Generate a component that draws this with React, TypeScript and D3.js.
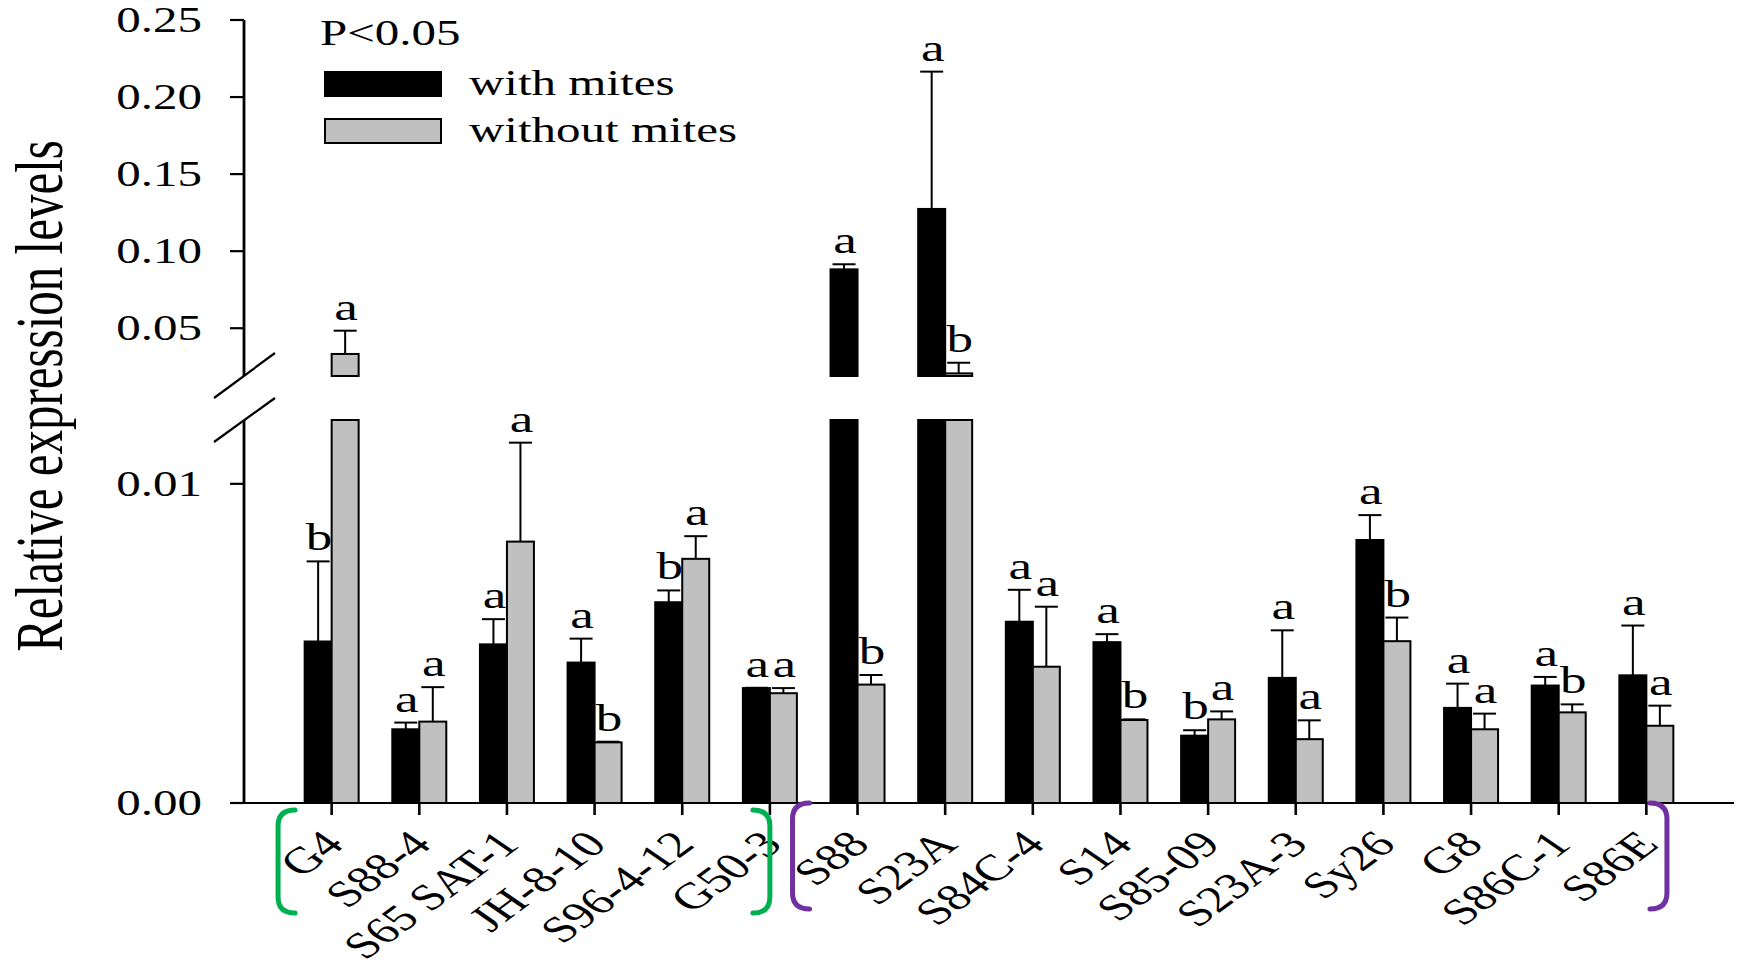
import React from 'react';
import * as d3 from 'd3';

// Cultivars, grouped by the coloured brackets under the axis
const categories = [
  'G4', 'S88-4', 'S65 SAT-1', 'JH-8-10', 'S96-4-12', 'G50-3',
  'S88', 'S23A', 'S84C-4', 'S14', 'S85-09', 'S23A-3', 'Sy26', 'G8', 'S86C-1', 'S86E',
];

// Relative expression, mean and standard error
const withMites = [
  0.00506, 0.00231, 0.00497, 0.0044, 0.00629, 0.0036,
  0.0882, 0.1274, 0.00568, 0.00504, 0.00211, 0.00392, 0.00824, 0.00298, 0.00368, 0.004,
];
const withMitesSE = [
  0.00251, 0.00021, 0.00079, 0.00075, 0.00037, 0.00001,
  0.0033, 0.0891, 0.001, 0.00025, 0.00017, 0.00149, 0.00078, 0.00076, 0.00027, 0.00156,
];
const withoutMites = [
  0.0333, 0.00255, 0.00819, 0.0019, 0.00765, 0.00344,
  0.00371, 0.0207, 0.00427, 0.0026, 0.00262, 0.002, 0.00507, 0.00231, 0.00284, 0.00242,
];
const withoutMitesSE = [
  0.0151, 0.00108, 0.0031, 0.00002, 0.00071, 0.00016,
  0.0003, 0.0069, 0.00188, 0.00002, 0.00025, 0.00059, 0.00074, 0.00049, 0.00025, 0.00063,
];

// Significance letters (P<0.05)
const withMitesLetters = ['b', 'a', 'a', 'a', 'b', 'a', 'a', 'a', 'a', 'a', 'b', 'a', 'a', 'a', 'a', 'a'];
const withoutMitesLetters = ['a', 'a', 'a', 'b', 'a', 'a', 'b', 'b', 'a', 'b', 'a', 'a', 'b', 'a', 'b', 'a'];

// Broken y axis: lower and upper segments
const lowerTicks = [0, 0.01];
const upperTicks = [0.05, 0.1, 0.15, 0.2, 0.25];
const lowerDomain = [0, 0.012];
const upperDomain = [0.019, 0.25];

const seriesNames = ['with mites', 'without mites'];
const seriesColors = ['#000000', '#c0c0c0'];

const brackets = [
  { first: 'G4', last: 'G50-3', color: '#00b050' },
  { first: 'S88', last: 'S86E', color: '#7030a0' },
];

const W = 1739;
const H = 964;
const SX = 1.4; // horizontal stretch of the typeface
const FONT = "'Liberation Serif', 'Times New Roman', serif";

const axisX = 244;
const baseY = 803;
const lowerTop = 420;
const upperBottom = 376;
const upperTop = 20;
const barW = 27;

const T = ({ x, y, size, anchor = 'middle', rotate = 0, dy, children }: any) => (
  <text
    transform={`translate(${x},${y}) scale(${SX},1)${rotate ? ` rotate(${rotate})` : ''}`}
    textAnchor={anchor}
    fontSize={size}
    fontFamily={FONT}
    dy={dy}
    fill="#000"
  >
    {children}
  </text>
);

export default function App() {
  const x = d3.scaleBand<string>().domain(categories).range([axisX, 1734]).paddingInner(0).paddingOuter(0.5);
  const yLow = d3.scaleLinear().domain(lowerDomain).range([baseY, lowerTop]);
  const yHigh = d3.scaleLinear().domain(upperDomain).range([upperBottom, upperTop]);
  const lowMax = lowerDomain[1];
  const cx = (c: string) => (x(c) as number) + x.bandwidth() / 2;
  const fmt = d3.format('.2f');

  const series = [
    { values: withMites, se: withMitesSE, letters: withMitesLetters, fill: seriesColors[0], off: -barW },
    { values: withoutMites, se: withoutMitesSE, letters: withoutMitesLetters, fill: seriesColors[1], off: 0 },
  ];

  const bars: any[] = [];
  series.forEach((s, si) => {
    categories.forEach((c, i) => {
      const v = s.values[i];
      const top = v + s.se[i];
      const x0 = cx(c) + s.off;
      const mid = x0 + barW / 2;
      const high = v > lowMax;
      const sc = high ? yHigh : yLow;
      const yv = sc(v);
      const yt = sc(top);
      const key = `${si}-${i}`;
      if (high) {
        bars.push(
          <rect key={key + 'l'} x={x0} y={lowerTop} width={barW} height={baseY - lowerTop}
            fill={s.fill} stroke="#000" strokeWidth={2} />,
          <rect key={key + 'u'} x={x0} y={yv} width={barW} height={upperBottom - yv}
            fill={s.fill} stroke="#000" strokeWidth={2} />,
        );
      } else {
        bars.push(
          <rect key={key} x={x0} y={yv} width={barW} height={baseY - yv}
            fill={s.fill} stroke="#000" strokeWidth={2} />,
        );
      }
      bars.push(
        <g key={key + 'e'} stroke="#000" strokeWidth={2}>
          <line x1={mid} x2={mid} y1={yv} y2={yt} />
          <line x1={mid - 11.5} x2={mid + 11.5} y1={yt} y2={yt} />
        </g>,
        <T key={key + 't'} x={mid + 1} y={yt - 11} size={38}>{s.letters[i]}</T>,
      );
    });
  });

  const bracketPaths = brackets.map((b, bi) => {
    const left = cx(b.first) - (bi === 0 ? 53.6 : 65);
    const right = cx(b.last) + (bi === 0 ? 0 : 20.6);
    const top = bi === 0 ? 810 : 803;
    const bot = bi === 0 ? 913 : 909;
    const r = 16;
    const d = (vx: number, dir: number) =>
      `M${vx + dir * 17},${top} Q${vx},${top} ${vx},${top + r} L${vx},${bot - r} Q${vx},${bot} ${vx + dir * 17},${bot}`;
    return (
      <g key={'br' + bi} fill="none" stroke={b.color} strokeWidth={5} strokeLinecap="round">
        <path d={d(left, 1)} />
        <path d={d(right, -1)} />
      </g>
    );
  });

  return (
    <svg width={W} height={H} style={{ position: 'absolute', left: 0, top: 0, background: '#fff' }}>
      <rect width={W} height={H} fill="#fff" />

      {bars}

      {/* axes */}
      <g stroke="#000" fill="none">
        <line x1={axisX} x2={axisX} y1={upperTop} y2={upperBottom} strokeWidth={2.8} />
        <line x1={axisX} x2={axisX} y1={lowerTop} y2={baseY} strokeWidth={2.8} />
        <line x1={230} x2={1734} y1={baseY} y2={baseY} strokeWidth={2.2} />
        {/* axis break marks */}
        <line x1={214} y1={398} x2={275} y2={353} strokeWidth={2.2} />
        <line x1={214} y1={442} x2={275} y2={398} strokeWidth={2.2} />
        {lowerTicks.map((t) => (
          <line key={'lt' + t} x1={230} x2={axisX} y1={yLow(t)} y2={yLow(t)} strokeWidth={2.2} />
        ))}
        {upperTicks.map((t) => (
          <line key={'ut' + t} x1={230} x2={axisX} y1={yHigh(t)} y2={yHigh(t)} strokeWidth={2.2} />
        ))}
        {categories.map((c) => (
          <line key={'xt' + c} x1={cx(c)} x2={cx(c)} y1={baseY} y2={baseY + 12} strokeWidth={2.6} />
        ))}
      </g>

      {lowerTicks.map((t) => (
        <T key={'ll' + t} x={202} y={yLow(t)} size={35} anchor="end" dy="0.34em">{fmt(t)}</T>
      ))}
      {upperTicks.map((t) => (
        <T key={'ul' + t} x={202} y={yHigh(t)} size={35} anchor="end" dy="0.34em">{fmt(t)}</T>
      ))}

      {categories.map((c) => (
        <T key={'xl' + c} x={cx(c) + 14} y={846} size={37} anchor="end" rotate={-46}>{c}</T>
      ))}

      {bracketPaths}

      <T x={62} y={396} size={49} rotate={-90}>Relative expression levels</T>

      {/* legend */}
      <T x={320} y={45} size={35} anchor="start">P&lt;0.05</T>
      {seriesNames.map((n, i) => (
        <g key={'lg' + n}>
          <rect x={325} y={72 + i * 47} width={116} height={24} fill={seriesColors[i]} stroke="#000" strokeWidth={2} />
          <T x={469} y={95 + i * 47} size={35} anchor="start">{n}</T>
        </g>
      ))}
    </svg>
  );
}
